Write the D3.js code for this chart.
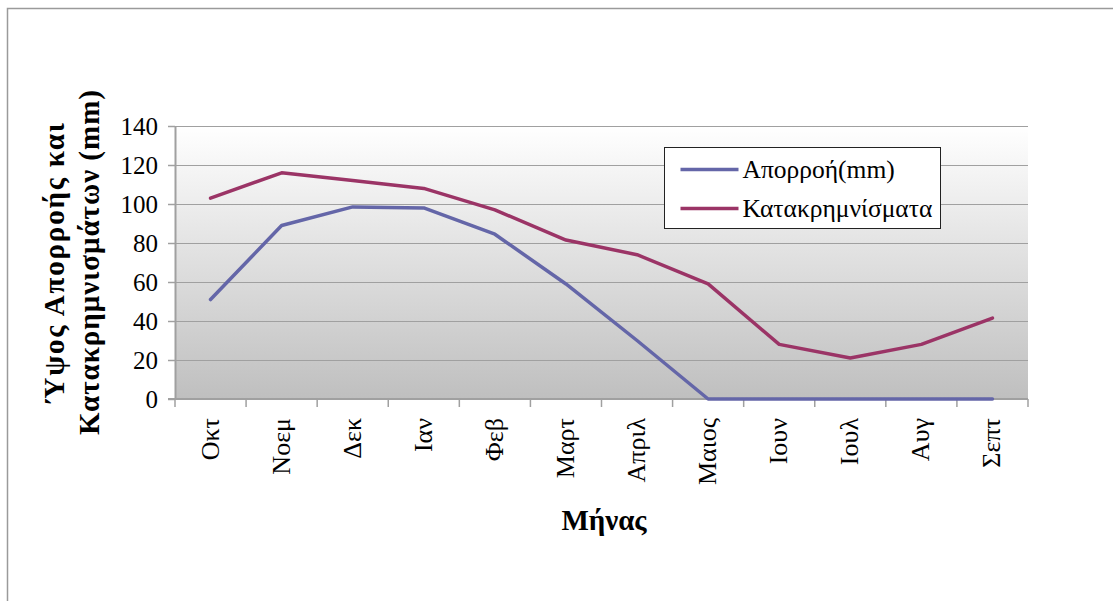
<!DOCTYPE html>
<html>
<head>
<meta charset="utf-8">
<script src="https://cdn.jsdelivr.net/npm/d3@7"></script>
<style>
  body { margin: 0; background: #fff; }
  svg { display: block; font-family: "Liberation Serif", "DejaVu Serif", serif; }
</style>
</head>
<body>
<div id="chart"></div>
<script>
// data
const months = ["Οκτ", "Νοεμ", "Δεκ", "Ιαν", "Φεβ", "Μαρτ", "Απριλ", "Μαιος", "Ιουν", "Ιουλ", "Αυγ", "Σεπτ"];
const runoff = [51, 89, 98.5, 98, 84.5, 59, 30, 0, 0, 0, 0, 0];
const rainfall = [103, 116, 112, 108, 97, 81.5, 74, 59, 28, 21, 28, 41.5];
const yTicks = [0, 20, 40, 60, 80, 100, 120, 140];
const seriesNames = ["Απορροή(mm)", "Κατακρημνίσματα"];
const seriesColors = ["#6466a8", "#9b3466"];

const width = 1113, height = 601;
const m = { left: 175, right: 1028, top: 126, bottom: 399 };

const svg = d3.select("#chart").append("svg")
  .attr("width", width)
  .attr("height", height);

// outer frame (only top and left edges visible)
svg.append("path")
  .attr("d", "M7.5," + height + "V8.5H" + width)
  .attr("fill", "none")
  .attr("stroke", "#9a9a9a")
  .attr("stroke-width", 1.5);

const x = d3.scaleBand().domain(months).range([m.left, m.right]);
const y = d3.scaleLinear().domain([0, 140]).range([m.bottom, m.top]);

// plot background gradient
const grad = svg.append("defs").append("linearGradient")
  .attr("id", "bg").attr("x1", 0).attr("y1", 0).attr("x2", 0).attr("y2", 1);
grad.append("stop").attr("offset", "0%").attr("stop-color", "#ffffff");
grad.append("stop").attr("offset", "100%").attr("stop-color", "#bfbfbf");

svg.append("rect")
  .attr("x", m.left).attr("y", m.top)
  .attr("width", m.right - m.left).attr("height", m.bottom - m.top)
  .attr("fill", "url(#bg)");

// gridlines
svg.append("g").selectAll("line")
  .data(yTicks.filter(d => d > 0))
  .enter().append("line")
  .attr("x1", m.left).attr("x2", m.right)
  .attr("y1", d => y(d) + 0.5).attr("y2", d => y(d) + 0.5)
  .attr("stroke", "#a0a0a0")
  .attr("stroke-width", 1.2);

// y axis
const yAxis = svg.append("g")
  .attr("transform", "translate(" + m.left + ",0)")
  .call(d3.axisLeft(y).tickValues(yTicks).tickSize(7).tickPadding(10).tickSizeOuter(0));
yAxis.select(".domain").attr("stroke", "#a0a0a0").attr("stroke-width", 2);
yAxis.selectAll(".tick line").attr("stroke", "#a0a0a0").attr("stroke-width", 1.5);
yAxis.selectAll("text")
  .attr("font-size", 25)
  .attr("font-family", "Liberation Serif")
  .attr("fill", "#000");

// x axis with ticks on category boundaries
const xAxisG = svg.append("g")
  .attr("transform", "translate(0," + m.bottom + ")");
xAxisG.append("line")
  .attr("x1", m.left - 7).attr("x2", m.right)
  .attr("stroke", "#a0a0a0").attr("stroke-width", 2);
xAxisG.selectAll(".bt")
  .data(months.concat(["end"]))
  .enter().append("line")
  .attr("class", "bt")
  .attr("x1", (d, i) => i < months.length ? x(d) : m.right)
  .attr("x2", (d, i) => i < months.length ? x(d) : m.right)
  .attr("y1", 0).attr("y2", 8)
  .attr("stroke", "#a0a0a0").attr("stroke-width", 1.5);
xAxisG.selectAll(".lbl")
  .data(months)
  .enter().append("text")
  .attr("class", "lbl")
  .attr("transform", d => "translate(" + (x(d) + x.bandwidth() / 2 + 8) + ",19) rotate(-90)")
  .attr("text-anchor", "end")
  .attr("font-size", 26)
  .attr("fill", "#000")
  .text(d => d);

// lines
const line = d3.line()
  .x((d, i) => x(months[i]) + x.bandwidth() / 2)
  .y(d => y(d));

[runoff, rainfall].forEach((s, k) => {
  svg.append("path")
    .datum(s)
    .attr("d", line)
    .attr("fill", "none")
    .attr("stroke", seriesColors[k])
    .attr("stroke-width", 3.5)
    .attr("stroke-linejoin", "round")
    .attr("stroke-linecap", "round");
});

// legend
const lg = svg.append("g").attr("transform", "translate(664.5,147.5)");
lg.append("rect")
  .attr("width", 276).attr("height", 81)
  .attr("fill", "#ffffff")
  .attr("stroke", "#222").attr("stroke-width", 1);
seriesNames.forEach((name, k) => {
  const yy = 22 + k * 39;
  lg.append("line")
    .attr("x1", 16).attr("x2", 74)
    .attr("y1", yy).attr("y2", yy)
    .attr("stroke", seriesColors[k])
    .attr("stroke-width", 3.5);
  lg.append("text")
    .attr("x", 78).attr("y", yy + 8)
    .attr("font-size", 25.5)
    .attr("fill", "#000")
    .text(name);
});

// axis titles
svg.append("text")
  .attr("x", 604).attr("y", 530)
  .attr("text-anchor", "middle")
  .attr("font-size", 29)
  .attr("font-weight", "bold")
  .text("Μήνας");

const yt = svg.append("text")
  .attr("transform", "translate(64,262) rotate(-90)")
  .attr("text-anchor", "middle")
  .attr("font-size", 29)
  .attr("font-weight", "bold")
  .attr("letter-spacing", 1);
yt.append("tspan").attr("x", 0).attr("dy", 0).attr("letter-spacing", 1.8).text("Ύψος Απορροής και");
yt.append("tspan").attr("x", 0).attr("dy", 35).text("Κατακρημνισμάτων (mm)");
</script>
</body>
</html>
